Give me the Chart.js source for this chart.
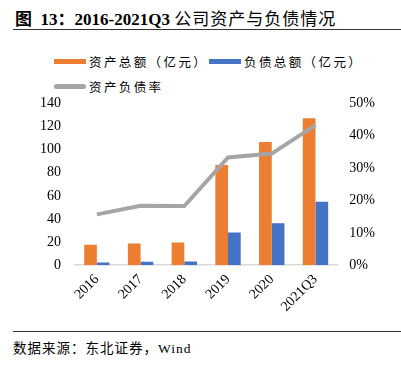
<!DOCTYPE html>
<html>
<head>
<meta charset="utf-8">
<script src="https://cdn.jsdelivr.net/npm/chart.js@4/dist/chart.umd.min.js"></script>
<style>
  html, body { margin: 0; padding: 0; background: #fff; }
  body { width: 401px; height: 369px; position: relative; overflow: hidden;
         font-family: 'Liberation Serif', 'Noto Sans CJK SC', serif; color: #000; }
  #title { position: absolute; left: 15px; top: 5px; font-size: 17px; font-weight: bold; white-space: nowrap; }
  #title .cn { font-weight: normal; letter-spacing: 1px; }
  .rule { position: absolute; left: 13px; right: 0; height: 1px; background: #333; }
  .legend { position: absolute; font-size: 12.5px; letter-spacing: 2.4px; white-space: nowrap; display: flex; align-items: center; }
  .legend .sw { display: inline-block; width: 32px; height: 5px; margin-right: 3px; }
  #chart-wrap { position: absolute; left: 0; top: 81px; width: 401px; height: 240px; }
  #source { position: absolute; left: 13px; top: 337px; font-size: 13.5px; letter-spacing: 1px; white-space: nowrap; }
</style>
</head>
<body>
<div id="title">图&nbsp;&nbsp;13：2016-2021Q3 <span class="cn">公司资产与负债情况</span></div>
<div class="rule" style="top:29px"></div>

<div class="legend" style="left:54px; top:52px"><span class="sw" style="background:#ed7d31"></span>资产总额（亿元）</div>
<div class="legend" style="left:209px; top:52px"><span class="sw" style="background:#4472c4"></span>负债总额（亿元）</div>
<div class="legend" style="left:54px; top:77px"><span class="sw" style="background:#a5a5a5; border-radius:3px"></span>资产负债率</div>

<div id="chart-wrap"><canvas id="grafico"></canvas></div>

<div class="rule" style="top:331px"></div>
<div id="source">数据来源：东北证券，Wind</div>

<script>
const categories = ['2016', '2017', '2018', '2019', '2020', '2021Q3'];
const totalAssets = [17.7, 18.9, 19.7, 86.8, 106.5, 127.2];
const totalLiabilities = [2.3, 2.9, 3.2, 28.4, 36.3, 54.9];
const debtRatio = [15.7, 18.4, 18.3, 33.3, 34.5, 43.3];
const leftTicks = [0, 20, 40, 60, 80, 100, 120, 140];
const rightTicks = [0, 10, 20, 30, 40, 50];

const tickFont = { family: "'Liberation Serif', serif", size: 14 };

new Chart(document.getElementById('grafico'), {
  data: {
    labels: categories,
    datasets: [
      {
        type: 'line',
        label: '资产负债率',
        data: debtRatio,
        yAxisID: 'yRight',
        borderColor: '#a5a5a5',
        borderWidth: 4,
        pointRadius: 0,
        tension: 0,
        order: 0,
      },
      {
        type: 'bar',
        label: '资产总额（亿元）',
        data: totalAssets,
        yAxisID: 'y',
        backgroundColor: '#ed7d31',
        categoryPercentage: 0.58,
        barPercentage: 1,
        order: 1,
      },
      {
        type: 'bar',
        label: '负债总额（亿元）',
        data: totalLiabilities,
        yAxisID: 'y',
        backgroundColor: '#4472c4',
        categoryPercentage: 0.58,
        barPercentage: 1,
        order: 1,
      },
    ],
  },
  options: {
    responsive: true,
    maintainAspectRatio: false,
    animation: false,
    layout: { padding: { top: 6, left: 26, right: 14, bottom: 0 } },
    plugins: {
      legend: { display: false },
      tooltip: { enabled: false },
    },
    scales: {
      x: {
        grid: { display: false, drawTicks: false },
        border: { color: '#d9d9d9', width: 1.5 },
        ticks: {
          color: '#000',
          font: tickFont,
          minRotation: 45,
          maxRotation: 45,
          padding: 6,
        },
      },
      y: {
        position: 'left',
        min: 0,
        max: 140,
        afterBuildTicks: (axis) => { axis.ticks = leftTicks.map((v) => ({ value: v })); },
        grid: { display: false, drawTicks: false },
        border: { display: false },
        ticks: { color: '#000', font: tickFont, padding: 14 },
      },
      yRight: {
        position: 'right',
        min: 0,
        max: 50,
        afterBuildTicks: (axis) => { axis.ticks = rightTicks.map((v) => ({ value: v })); },
        grid: { display: false, drawTicks: false },
        border: { display: false },
        ticks: {
          color: '#000',
          font: tickFont,
          padding: 12,
          callback: (value) => value + '%',
        },
      },
    },
  },
});
</script>
</body>
</html>
